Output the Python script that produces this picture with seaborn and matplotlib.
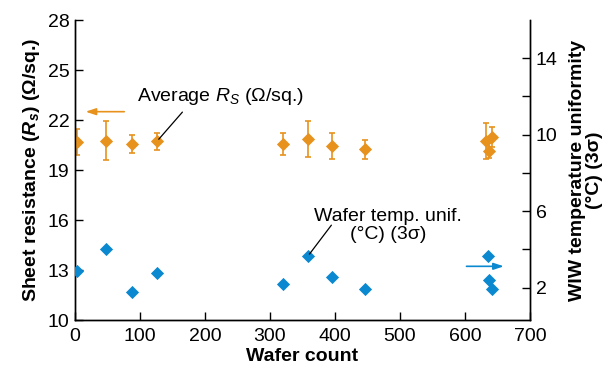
import matplotlib
matplotlib.use("Agg")
import matplotlib.pyplot as plt
from matplotlib import font_manager
from matplotlib.ticker import FixedLocator, MultipleLocator
import pandas as pd
import seaborn as sns

# average sheet resistance (left axis)
rs_wafer = [3, 48, 88, 126, 320, 358, 395, 446, 632, 642, 637]
rs_avg = [20.70, 20.76, 20.56, 20.72, 20.56, 20.84, 20.44, 20.26, 20.74, 21.00, 20.16]
rs_err = [0.78, 1.17, 0.53, 0.53, 0.66, 1.08, 0.77, 0.57, 1.06, 0.60, 0.45]

# wafer temperature uniformity (right axis)
tu_wafer = [3, 48, 88, 126, 320, 358, 395, 446, 635, 637, 641]
tu_val = [2.87, 4.03, 1.75, 2.76, 2.19, 3.63, 2.55, 1.90, 3.63, 2.42, 1.93]

left_ticks = [10, 13, 16, 19, 22, 25, 28]
right_ticks = [2, 6, 10, 14]

orange = "#E8921E"
blue = "#0A88D0"

sns.set_style("ticks")
names = {f.name for f in font_manager.fontManager.ttflist}
fam = "Liberation Sans Narrow" if "Liberation Sans Narrow" in names else "Liberation Sans"
plt.rcParams["font.family"] = [fam, "DejaVu Sans"]
plt.rcParams["mathtext.fontset"] = "custom"
plt.rcParams["mathtext.rm"] = fam
plt.rcParams["mathtext.it"] = fam + ":italic"
plt.rcParams["mathtext.bf"] = fam + ":bold"
plt.rcParams["mathtext.bfit"] = fam + ":bold:italic"
for k in ["text.color", "axes.labelcolor", "xtick.color", "ytick.color", "axes.edgecolor"]:
    plt.rcParams[k] = "black"
fs = 14

rs = pd.DataFrame({"wafer": rs_wafer, "avg": rs_avg, "err": rs_err})
tu = pd.DataFrame({"wafer": tu_wafer, "val": tu_val})

fig = plt.figure(figsize=(6.16, 3.85), dpi=100)
ax = fig.add_axes([0.1218, 0.1688, 0.7386, 0.7792])
ax2 = ax.twinx()

ax.errorbar(rs["wafer"], rs["avg"], yerr=rs["err"], fmt="none", ecolor=orange,
            elinewidth=1.2, capsize=2.3, capthick=1.2, zorder=2)
sns.scatterplot(data=rs, x="wafer", y="avg", marker="D", color=orange, s=45,
                linewidth=0, ax=ax, zorder=3)
sns.scatterplot(data=tu, x="wafer", y="val", marker="D", color=blue, s=45,
                linewidth=0, ax=ax2, zorder=3)

ax.set_xlim(0, 700)
ax.set_ylim(10, 28)
ax2.set_ylim(0.3, 16)
ax.xaxis.set_major_locator(MultipleLocator(100))
ax.yaxis.set_major_locator(FixedLocator(left_ticks))
ax2.yaxis.set_major_locator(FixedLocator(right_ticks))
ax2.yaxis.set_minor_locator(FixedLocator([4, 8, 12]))

for a in (ax, ax2):
    a.spines["top"].set_visible(False)
    for s in a.spines.values():
        s.set_linewidth(1.0)
    a.tick_params(direction="in", length=6, width=1, labelsize=fs, which="both", pad=4)
ax.tick_params(axis="x", pad=6)

ax.set_xlabel("Wafer count", fontsize=fs, fontweight="bold", labelpad=2)
ax.set_ylabel(r"Sheet resistance ($\mathbfit{R_s}$) (Ω/sq.)", fontsize=fs,
              fontweight="bold", labelpad=4)
ax2.set_ylabel("WIW temperature uniformity\n(°C) (3σ)", fontsize=fs,
               fontweight="bold", rotation=90, labelpad=8, linespacing=1.0)

# annotations
ax.annotate("", xy=(12, 22.5), xytext=(80, 22.5),
            arrowprops=dict(arrowstyle="-|>,head_length=0.6,head_width=0.2",
                            color=orange, lw=1.2))
ax.text(95, 23.4, r"Average $R_S$ (Ω/sq.)", fontsize=fs, va="center", ha="left")
ax.annotate("", xy=(126, 20.72), xytext=(168, 22.6),
            arrowprops=dict(arrowstyle="-", color="black", lw=0.9))

ax2.annotate("", xy=(664, 3.11), xytext=(598, 3.11),
             arrowprops=dict(arrowstyle="-|>,head_length=0.6,head_width=0.2",
                             color=blue, lw=1.2))
ax2.text(482, 5.25, "Wafer temp. unif.\n(°C) (3σ)", fontsize=fs, ha="center",
         va="center", multialignment="center", linespacing=1.1)
ax2.annotate("", xy=(358, 3.63), xytext=(397, 5.38),
             arrowprops=dict(arrowstyle="-", color="black", lw=0.9))

fig.savefig("out.png", dpi=100)
